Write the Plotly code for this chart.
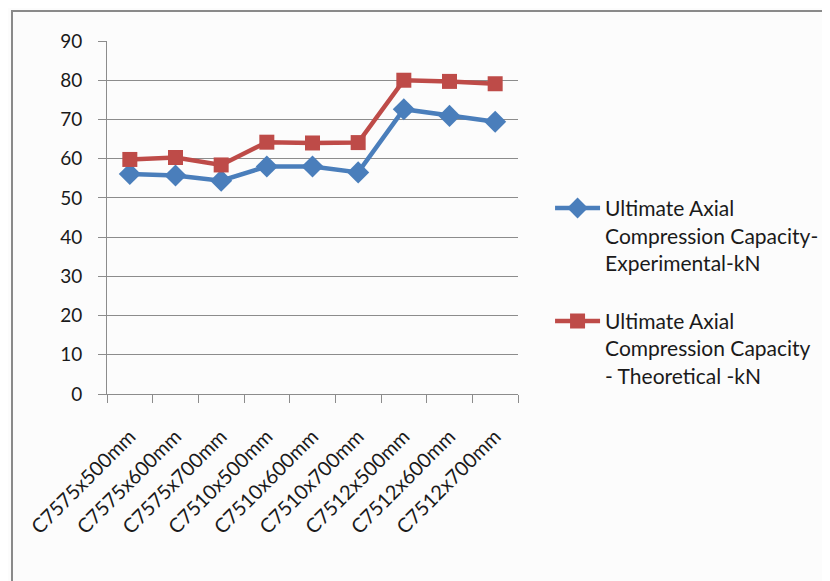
import plotly.graph_objects as go

categories = ["C7575x500mm", "C7575x600mm", "C7575x700mm", "C7510x500mm", "C7510x600mm",
              "C7510x700mm", "C7512x500mm", "C7512x600mm", "C7512x700mm"]
experimental = [56.1, 55.7, 54.4, 58.0, 58.0, 56.5, 72.6, 70.9, 69.4]
theoretical = [59.8, 60.3, 58.4, 64.2, 64.0, 64.1, 80.0, 79.7, 79.1]
name_exp = "Ultimate Axial<br>Compression Capacity-<br>Experimental-kN"
name_theo = "Ultimate Axial<br>Compression Capacity<br>- Theoretical -kN"
y_ticks = [0, 10, 20, 30, 40, 50, 60, 70, 80, 90]

FONT = "Lato, Open Sans, sans-serif"
TXT = "#1a1a1a"

fig = go.Figure()
fig.add_trace(go.Scatter(x=categories, y=experimental, name=name_exp, mode="lines+markers",
                         legendgroup="a",
                         line=dict(color="#4a7ebb", width=4.5),
                         marker=dict(symbol="diamond", size=17, color="#4a7ebb")))
fig.add_trace(go.Scatter(x=categories, y=theoretical, name=name_theo, mode="lines+markers",
                         legendgroup="b",
                         line=dict(color="#be4b48", width=4.5),
                         marker=dict(symbol="square", size=15, color="#be4b48")))

# page is offset by 8px body margin; figure occupies 822x573
W, H = 822, 573
L, T = 99, 33
PW, PH = 411, 353

fig.update_layout(
    width=W, height=H,
    margin=dict(l=L, r=W - L - PW, t=T, b=H - T - PH, autoexpand=False),
    paper_bgcolor="#fcfcfc", plot_bgcolor="#fcfcfc",
    font=dict(family=FONT, size=20, color=TXT),
    showlegend=True,
    legend=dict(x=1.078, y=0.584, xanchor="left", yanchor="top", valign="top",
                font=dict(family=FONT, size=21, color=TXT),
                bgcolor="rgba(0,0,0,0)", tracegroupgap=28, itemwidth=45),
    xaxis=dict(type="category", tickangle=-45, tickson="boundaries", ticks="outside",
               ticklen=8, tickcolor="#8c8c8c", showline=True, linecolor="#8c8c8c",
               showgrid=False, tickfont=dict(family=FONT, size=20, color=TXT),
               ticklabelstandoff=22, range=[-0.5, 8.5]),
    yaxis=dict(range=[0, 90], tickvals=y_ticks, ticks="outside", ticklen=8,
               tickcolor="#8c8c8c", showline=True, linecolor="#8c8c8c",
               gridcolor="#8c8c8c", gridwidth=1, zeroline=False,
               ticklabelstandoff=12,
               tickfont=dict(family=FONT, size=19, color=TXT)),
    shapes=[dict(type="rect", xref="paper", yref="paper",
                 x0=(4 - L) / PW, x1=2.5,
                 y0=-1.5, y1=(T + PH - 3) / PH,
                 line=dict(color="#8a8a8a", width=2), fillcolor="rgba(0,0,0,0)",
                 layer="below")],
)

fig.write_html("out.html")
